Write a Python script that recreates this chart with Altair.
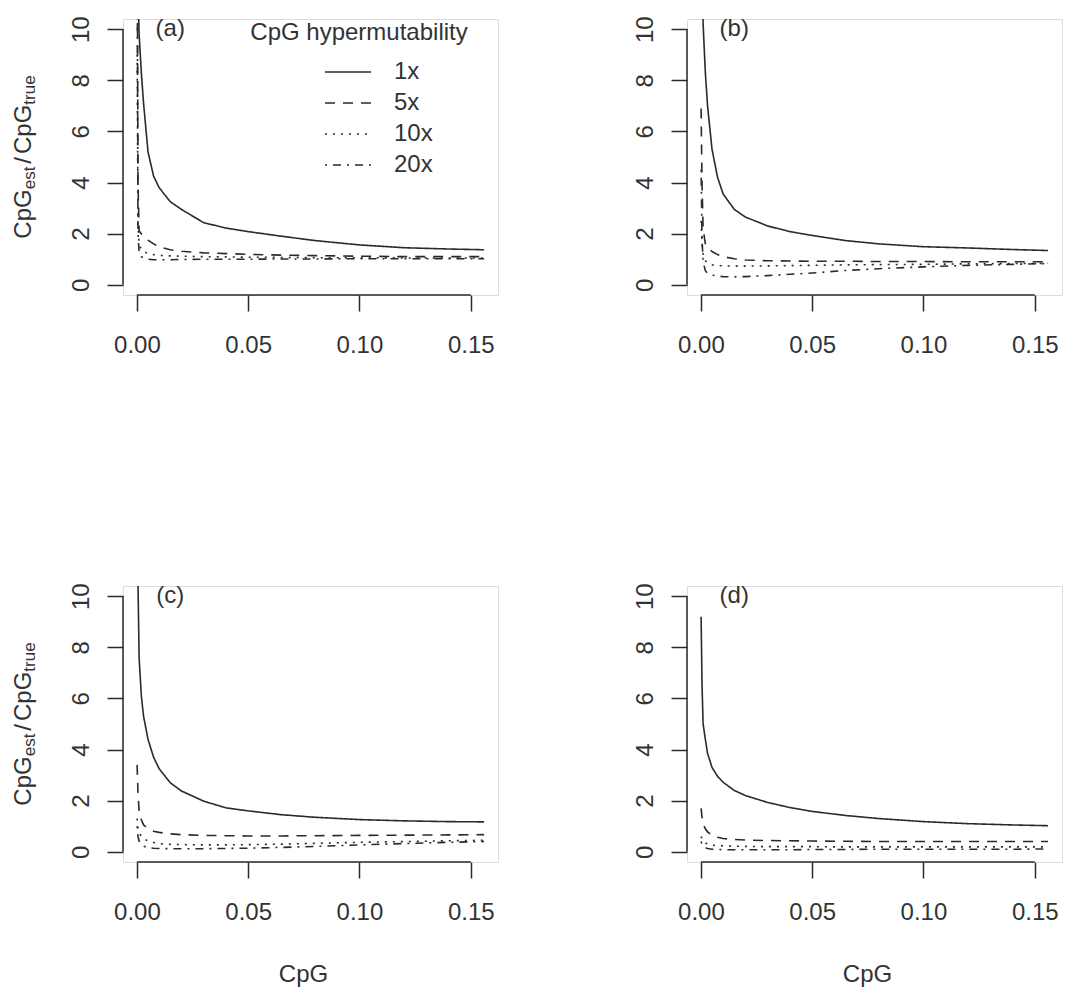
import altair as alt
import pandas as pd

# CpG fraction at which the estimator was evaluated
cpg = [0.0001, 0.0005, 0.001, 0.002, 0.003, 0.005, 0.0075, 0.01, 0.015, 0.02,
       0.03, 0.04, 0.05, 0.065, 0.08, 0.1, 0.12, 0.14, 0.156]

rates = ["1x", "5x", "10x", "20x"]
panel_ids = ["a", "b", "c", "d"]

# CpG_est / CpG_true for each panel and hypermutability level
a_1x = [20, 11.5, 9.8, 8.3, 7.1, 5.2, 4.25, 3.8, 3.25, 2.95, 2.43, 2.22, 2.08, 1.9, 1.73, 1.56, 1.45, 1.4, 1.37]
a_5x = [15, 4.0, 2.1, 2.0, 1.92, 1.75, 1.6, 1.49, 1.37, 1.31, 1.25, 1.22, 1.19, 1.16, 1.14, 1.12, 1.1, 1.1, 1.1]
a_10x = [9, 2.4, 1.6, 1.38, 1.3, 1.22, 1.18, 1.15, 1.13, 1.12, 1.1, 1.09, 1.08, 1.07, 1.06, 1.06, 1.05, 1.05, 1.05]
a_20x = [14, 2.0, 1.25, 1.1, 1.05, 1.0, 0.98, 0.98, 0.98, 0.99, 1.0, 1.0, 1.0, 1.01, 1.01, 1.02, 1.02, 1.02, 1.02]

b_1x = [25, 14, 10.2, 8.3, 7.0, 5.3, 4.2, 3.55, 2.95, 2.65, 2.3, 2.08, 1.93, 1.73, 1.6, 1.49, 1.44, 1.38, 1.34]
b_5x = [6.9, 4.0, 2.2, 1.6, 1.47, 1.3, 1.18, 1.1, 1.02, 0.97, 0.94, 0.93, 0.92, 0.92, 0.91, 0.91, 0.9, 0.9, 0.9]
b_10x = [2.5, 1.6, 1.2, 0.95, 0.85, 0.78, 0.75, 0.74, 0.73, 0.73, 0.74, 0.75, 0.76, 0.78, 0.79, 0.8, 0.82, 0.83, 0.84]
b_20x = [4.5, 1.8, 0.9, 0.55, 0.45, 0.38, 0.34, 0.32, 0.31, 0.32, 0.36, 0.41, 0.46, 0.56, 0.63, 0.7, 0.76, 0.8, 0.83]

c_1x = [25, 10.5, 7.6, 6.1, 5.3, 4.4, 3.7, 3.25, 2.7, 2.38, 1.98, 1.72, 1.6, 1.45, 1.35, 1.26, 1.21, 1.18, 1.17]
c_5x = [3.4, 2.3, 1.6, 1.25, 1.05, 0.9, 0.8, 0.76, 0.7, 0.67, 0.64, 0.63, 0.62, 0.62, 0.63, 0.64, 0.65, 0.66, 0.67]
c_10x = [1.3, 0.9, 0.75, 0.6, 0.52, 0.42, 0.36, 0.32, 0.29, 0.28, 0.27, 0.27, 0.28, 0.3, 0.33, 0.37, 0.4, 0.43, 0.45]
c_20x = [1.0, 0.6, 0.42, 0.3, 0.22, 0.16, 0.14, 0.13, 0.12, 0.12, 0.12, 0.13, 0.14, 0.17, 0.21, 0.27, 0.32, 0.37, 0.4]

d_1x = [9.2, 6.6, 5.0, 4.4, 3.85, 3.3, 2.95, 2.72, 2.4, 2.2, 1.93, 1.73, 1.58, 1.42, 1.3, 1.18, 1.1, 1.05, 1.02]
d_5x = [1.7, 1.35, 1.1, 0.9, 0.78, 0.65, 0.57, 0.52, 0.48, 0.46, 0.44, 0.43, 0.42, 0.41, 0.4, 0.4, 0.4, 0.4, 0.4]
d_10x = [0.6, 0.5, 0.42, 0.35, 0.3, 0.26, 0.24, 0.23, 0.22, 0.21, 0.2, 0.2, 0.2, 0.19, 0.19, 0.19, 0.19, 0.19, 0.19]
d_20x = [0.4, 0.3, 0.22, 0.16, 0.13, 0.1, 0.09, 0.08, 0.08, 0.08, 0.08, 0.08, 0.09, 0.09, 0.1, 0.1, 0.1, 0.1, 0.11]

x_ticks = [0, 0.05, 0.10, 0.15]
y_ticks = [0, 2, 4, 6, 8, 10]

series = {
    ("a", "1x"): a_1x, ("a", "5x"): a_5x, ("a", "10x"): a_10x, ("a", "20x"): a_20x,
    ("b", "1x"): b_1x, ("b", "5x"): b_5x, ("b", "10x"): b_10x, ("b", "20x"): b_20x,
    ("c", "1x"): c_1x, ("c", "5x"): c_5x, ("c", "10x"): c_10x, ("c", "20x"): c_20x,
    ("d", "1x"): d_1x, ("d", "5x"): d_5x, ("d", "10x"): d_10x, ("d", "20x"): d_20x,
}

rows = []
for (pid, rate), vals in series.items():
    for x, y in zip(cpg, vals):
        rows.append({"panel": pid, "rate": rate, "cpg": x, "ratio": y})
df = pd.DataFrame(rows)

W, H = 375, 276
FONT = "Liberation Sans"
INK = "#2a2a2a"
TXT = "#333333"
FS = 24

# R-style plot region: 4% padding around the data range
x_scale = alt.Scale(domain=[-0.00624, 0.16224], nice=False, zero=False)
y_scale = alt.Scale(domain=[-0.4, 10.4], nice=False, zero=False)
dash_scale = alt.Scale(domain=rates, range=[[1, 0], [10, 8], [2, 6], [2, 6, 8, 6]])

one = pd.DataFrame({"k": [0]})

# Arial advance widths (em units) for the characters in the y label
ADV = {"C": 0.722, "p": 0.556, "G": 0.778, "e": 0.556, "s": 0.5,
       "t": 0.278, "/": 0.278, "r": 0.333, "u": 0.556}


def y_label():
    # CpG_est / CpG_true set as rotated pieces with subscripts
    parts = [("CpG", FS, 0, 0), ("est", 17, 4, 0), ("/", FS, 0, 3),
             ("CpG", FS, 0, 3), ("true", 17, 4, 0)]
    widths = [sum(ADV[c] for c in t) * fs + gap for t, fs, _, gap in parts]
    total = sum(widths)
    pos = H / 2 + total / 2
    layers = []
    for (t, fs, drop, gap), w in zip(parts, widths):
        start = pos - gap
        layers.append(
            alt.Chart(one).mark_text(text=t, angle=270, align="left", baseline="alphabetic",
                                     font=FONT, fontSize=fs, color=TXT)
            .encode(x=alt.value(-92 + drop), y=alt.value(start))
        )
        pos -= w
    return layers


def legend_layers():
    leg = pd.DataFrame({"rate": rates})
    ly = alt.Y("rate:N", scale=alt.Scale(type="point", domain=rates, range=[53, 146], padding=0),
               axis=None)
    rules = alt.Chart(leg).mark_rule(color=INK, strokeWidth=1.6).encode(
        x=alt.value(202), x2=alt.value(248), y=ly,
        strokeDash=alt.StrokeDash("rate:N", scale=dash_scale, legend=None))
    labels = alt.Chart(leg).mark_text(align="left", baseline="middle", font=FONT,
                                      fontSize=FS, color=TXT).encode(
        x=alt.value(271), y=ly, text="rate:N")
    title = alt.Chart(one).mark_text(text="CpG hypermutability", align="center",
                                     baseline="middle", font=FONT, fontSize=FS,
                                     color=TXT).encode(x=alt.value(236), y=alt.value(14))
    return alt.layer(rules, labels, title)


def panel(pid, left_col, bottom_row, with_legend):
    x_kw = dict(values=x_ticks, format=".2f", domain=False, grid=False,
                tickSize=16, tickWidth=1.5, tickColor=INK,
                labelFont=FONT, labelFontSize=FS, labelColor=TXT,
                labelBaseline="alphabetic", labelPadding=41, labelFlush=False,
                labelOverlap=False)
    if bottom_row:
        x_kw.update(title="CpG", titleFont=FONT, titleFontSize=FS, titleFontWeight="normal",
                    titleColor=TXT, titleX=180, titleY=119, titleBaseline="alphabetic",
                    titleAlign="center")
    else:
        x_kw.update(title=None)
    y_axis = alt.Axis(values=y_ticks, domain=False, grid=False, tickSize=16, tickWidth=1.5,
                      tickColor=INK, labelFont=FONT, labelFontSize=FS, labelColor=TXT,
                      labelAngle=270, labelAlign="center", labelBaseline="alphabetic",
                      labelPadding=19, labelFlush=False, labelOverlap=False, title=None)

    sub = df[df.panel == pid]
    lines = alt.Chart(sub).mark_line(clip=True, strokeWidth=1.6, color=INK).encode(
        x=alt.X("cpg:Q", scale=x_scale, axis=alt.Axis(**x_kw)),
        y=alt.Y("ratio:Q", scale=y_scale, axis=y_axis),
        strokeDash=alt.StrokeDash("rate:N", scale=dash_scale, legend=None),
        order=alt.Order("cpg:Q"),
    )
    x_line = alt.Chart(one).mark_rule(color=INK, strokeWidth=1.5).encode(
        x=alt.datum(x_ticks[0]), x2=alt.datum(x_ticks[-1]), y=alt.value(H))
    y_line = alt.Chart(one).mark_rule(color=INK, strokeWidth=1.5).encode(
        y=alt.datum(y_ticks[0]), y2=alt.datum(y_ticks[-1]), x=alt.value(0))
    tag = alt.Chart(one).mark_text(text=f"({pid})", align="center", baseline="middle",
                                   font=FONT, fontSize=FS, color=TXT).encode(
        x=alt.datum(0.015), y=alt.datum(10))

    layers = [lines, x_line, y_line, tag]
    if left_col:
        layers += y_label()
    body = alt.layer(*layers)
    if with_legend:
        body = alt.layer(body, legend_layers()).resolve_scale(y="independent")
    return body.properties(width=W, height=H)


pa = panel("a", True, False, True)
pb = panel("b", False, False, False)
pc = panel("c", True, True, False)
pd_ = panel("d", False, True, False)

chart = alt.concat(
    pa, pb, pc, pd_, columns=2, spacing={"row": 291, "column": 189}, bounds="flush"
).properties(
    padding={"left": 11, "top": 15, "right": 0, "bottom": 0}
).configure_view(stroke=None).configure(background="white")

chart.save("out.html", embed_options={"renderer": "svg", "actions": False})
